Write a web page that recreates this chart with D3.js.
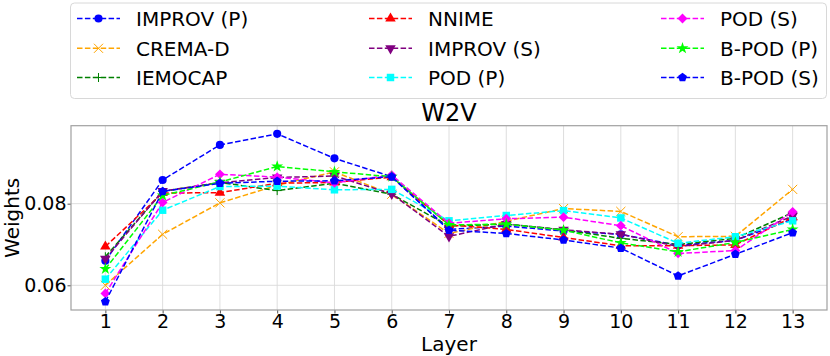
<!DOCTYPE html>
<html>
<head>
<meta charset="utf-8">
<script src="https://cdn.jsdelivr.net/npm/d3@7"></script>
<style>
  body { margin: 0; background: #fff; }
  svg { display: block; font-family: "DejaVu Sans", sans-serif; }
</style>
</head>
<body>
<svg id="chart"></svg>
<script>
let width = 830;
let height = 356;

let layers = [1, 2, 3, 4, 5, 6, 7, 8, 9, 10, 11, 12, 13];
let yTicks = [0.06, 0.08];

let seriesNames = ["IMPROV (P)", "CREMA-D", "IEMOCAP", "NNIME", "IMPROV (S)", "POD (P)", "POD (S)", "B-POD (P)", "B-POD (S)"];
let seriesColors = ["blue", "orange", "green", "red", "purple", "cyan", "magenta", "lime", "blue"];
let seriesMarkers = ["circle", "x", "plus", "triUp", "triDown", "square", "diamond", "star", "pentagon"];

let improvP  = [0.0660, 0.0858, 0.0944, 0.0971, 0.0911, 0.0866, 0.0737, 0.0745, 0.0733, 0.0725, 0.0698, 0.0710, 0.0762];
let cremaD   = [0.0600, 0.0725, 0.0802, 0.0845, 0.0878, 0.0823, 0.0727, 0.0757, 0.0788, 0.0781, 0.0719, 0.0720, 0.0835];
let iemocap  = [0.0670, 0.0830, 0.0852, 0.0832, 0.0850, 0.0823, 0.0745, 0.0750, 0.0736, 0.0715, 0.0700, 0.0715, 0.0778];
let nnime    = [0.0695, 0.0826, 0.0827, 0.0850, 0.0852, 0.0865, 0.0748, 0.0737, 0.0717, 0.0697, 0.0697, 0.0699, 0.0767];
let improvS  = [0.0665, 0.0831, 0.0851, 0.0864, 0.0868, 0.0824, 0.0720, 0.0750, 0.0736, 0.0725, 0.0695, 0.0710, 0.0770];
let podP     = [0.0615, 0.0784, 0.0842, 0.0843, 0.0834, 0.0835, 0.0758, 0.0771, 0.0783, 0.0765, 0.0703, 0.0719, 0.0758];
let podS     = [0.0580, 0.0803, 0.0872, 0.0865, 0.0851, 0.0870, 0.0752, 0.0763, 0.0767, 0.0746, 0.0678, 0.0685, 0.0780];
let bpodP    = [0.0640, 0.0820, 0.0853, 0.0891, 0.0878, 0.0866, 0.0748, 0.0750, 0.0735, 0.0704, 0.0682, 0.0705, 0.0737];
let bpodS    = [0.0560, 0.0830, 0.0850, 0.0855, 0.0856, 0.0866, 0.0735, 0.0727, 0.0711, 0.0691, 0.0623, 0.0676, 0.0729];

let seriesValues = [improvP, cremaD, iemocap, nnime, improvS, podP, podS, bpodP, bpodS];

let plotLeft = 71, plotRight = 827, plotTop = 125.7, plotBottom = 310;

let canvas = d3.select("#chart")
    .attr("width", width)
    .attr("height", height);

let xScale = d3.scaleLinear()
    .domain([0.4, 13.6])
    .range([plotLeft, plotRight]);

let yScale = d3.scaleLinear()
    .domain([0.05395, 0.0991])
    .range([plotBottom, plotTop]);

// pentagon for matplotlib 'p'
let symbolPentagon = {
    draw(context, size) {
        let r = Math.sqrt(size / 2.378);
        for (let i = 0; i < 5; i++) {
            let a = -Math.PI / 2 + i * 2 * Math.PI / 5;
            if (i === 0) context.moveTo(r * Math.cos(a), r * Math.sin(a));
            else context.lineTo(r * Math.cos(a), r * Math.sin(a));
        }
        context.closePath();
    }
};

let drawMarker = (g, kind, color, cx, cy) => {
    let m = g.append("path")
        .attr("transform", "translate(" + cx + "," + cy + ")");
    if (kind === "circle") {
        m.attr("d", d3.symbol(d3.symbolCircle, 52)()).attr("fill", color);
    } else if (kind === "pentagon") {
        m.attr("d", d3.symbol(symbolPentagon, 52)()).attr("fill", color);
    } else if (kind === "square") {
        m.attr("d", d3.symbol(d3.symbolSquare, 56)()).attr("fill", color);
    } else if (kind === "diamond") {
        m.attr("d", d3.symbol(d3.symbolSquare, 48)())
         .attr("transform", "translate(" + cx + "," + cy + ") rotate(45)")
         .attr("fill", color);
    } else if (kind === "triUp") {
        m.attr("d", d3.symbol(d3.symbolTriangle, 48)()).attr("fill", color);
    } else if (kind === "triDown") {
        m.attr("d", d3.symbol(d3.symbolTriangle, 48)())
         .attr("transform", "translate(" + cx + "," + cy + ") rotate(180)")
         .attr("fill", color);
    } else if (kind === "star") {
        m.attr("d", d3.symbol(d3.symbolStar, 44)()).attr("fill", color);
    } else if (kind === "x") {
        m.attr("d", d3.symbol(d3.symbolTimes, 56)())
         .attr("fill", "none").attr("stroke", color).attr("stroke-width", 1);
    } else if (kind === "plus") {
        m.attr("d", "M-4.5,0H4.5M0,-4.5V4.5")
         .attr("fill", "none").attr("stroke", color).attr("stroke-width", 1);
    }
};

// grid
let grid = canvas.append("g");
grid.selectAll(".vgrid")
    .data(layers)
    .enter()
    .append("line")
    .attr("x1", (d) => xScale(d))
    .attr("x2", (d) => xScale(d))
    .attr("y1", plotTop)
    .attr("y2", plotBottom)
    .attr("stroke", "#dadada")
    .attr("stroke-width", 0.9);
grid.selectAll(".hgrid")
    .data(yTicks)
    .enter()
    .append("line")
    .attr("x1", plotLeft)
    .attr("x2", plotRight)
    .attr("y1", (d) => yScale(d))
    .attr("y2", (d) => yScale(d))
    .attr("stroke", "#dadada")
    .attr("stroke-width", 0.9);

// axes
let xAxis = d3.axisBottom(xScale)
    .tickValues(layers)
    .tickFormat(d3.format("d"))
    .tickSize(3.5)
    .tickPadding(0.5);

let yAxis = d3.axisLeft(yScale)
    .tickValues(yTicks)
    .tickFormat(d3.format(".2f"))
    .tickSize(3.5)
    .tickPadding(1);

let gx = canvas.append("g")
    .attr("transform", "translate(0," + plotBottom + ")")
    .call(xAxis);
let gy = canvas.append("g")
    .attr("transform", "translate(" + plotLeft + ",0)")
    .call(yAxis);

[gx, gy].forEach((g) => {
    g.select(".domain").remove();
    g.selectAll(".tick line").attr("stroke", "#555");
    g.selectAll(".tick text")
        .attr("fill", "#000")
        .style("font-size", "19px")
        .style("font-family", "DejaVu Sans");
});

// series
let line = d3.line()
    .x((d, i) => xScale(layers[i]))
    .y((d) => yScale(d));

seriesValues.forEach((vals, s) => {
    let g = canvas.append("g");
    g.append("path")
        .datum(vals)
        .attr("d", line)
        .attr("fill", "none")
        .attr("stroke", seriesColors[s])
        .attr("stroke-width", 1.5)
        .attr("stroke-dasharray", "5.5,2.4");
    vals.forEach((v, i) => {
        drawMarker(g, seriesMarkers[s], seriesColors[s], xScale(layers[i]), yScale(v));
    });
});

// frame
canvas.append("rect")
    .attr("x", plotLeft)
    .attr("y", plotTop)
    .attr("width", plotRight - plotLeft)
    .attr("height", plotBottom - plotTop)
    .attr("fill", "none")
    .attr("stroke", "#a0a0a0")
    .attr("stroke-width", 1.2);

// title and labels
canvas.append("text")
    .text("W2V")
    .attr("x", (plotLeft + plotRight) / 2)
    .attr("y", 120.5)
    .attr("text-anchor", "middle")
    .style("font-size", "24px");

canvas.append("text")
    .text("Layer")
    .attr("x", (plotLeft + plotRight) / 2)
    .attr("y", 351)
    .attr("text-anchor", "middle")
    .style("font-size", "20px");

canvas.append("text")
    .text("Weights")
    .attr("transform", "translate(18.5," + ((plotTop + plotBottom) / 2) + ") rotate(-90)")
    .attr("text-anchor", "middle")
    .style("font-size", "20px");

// legend
let legend = canvas.append("g");
legend.append("rect")
    .attr("x", 70.5)
    .attr("y", 3)
    .attr("width", 756)
    .attr("height", 95.5)
    .attr("rx", 4)
    .attr("fill", "#fff")
    .attr("stroke", "#d8d8d8")
    .attr("stroke-width", 1);

let colX = [77, 369, 661];
let rowY = [18.5, 48.3, 77.5];

seriesNames.forEach((name, s) => {
    let cx = colX[Math.floor(s / 3)];
    let cy = rowY[s % 3];
    let g = legend.append("g");
    g.append("line")
        .attr("x1", cx)
        .attr("x2", cx + 43)
        .attr("y1", cy)
        .attr("y2", cy)
        .attr("stroke", seriesColors[s])
        .attr("stroke-width", 1.5)
        .attr("stroke-dasharray", "5.5,2.4");
    drawMarker(g, seriesMarkers[s], seriesColors[s], cx + 21.5, cy);
    g.append("text")
        .text(name)
        .attr("x", cx + 59)
        .attr("y", cy + 7.3)
        .style("font-size", "20px");
});
</script>
</body>
</html>
